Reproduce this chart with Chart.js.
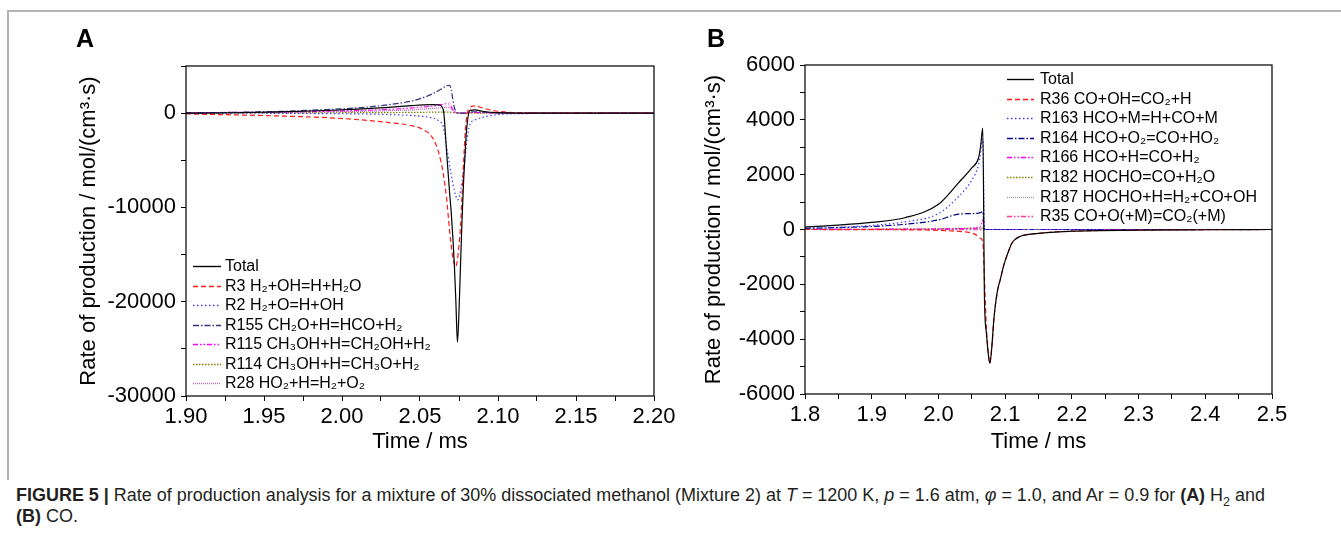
<!DOCTYPE html>
<html>
<head>
<meta charset="utf-8">
<title>Figure 5 - Rate of production analysis</title>
<script src="https://cdn.jsdelivr.net/npm/chart.js@4.4.1/dist/chart.umd.min.js"></script>
<style>
  html, body { margin: 0; padding: 0; background: #fff; }
  #fig { position: relative; width: 1341px; height: 537px; overflow: hidden; background: #fff;
         font-family: 'Liberation Sans', Arial, sans-serif; }
  .rule-top { position: absolute; left: 7px; top: 10px; width: 1334px; height: 2px; background: #b4b4b4; }
  .rule-left { position: absolute; left: 7px; top: 10px; width: 2px; height: 470px; background: #b4b4b4; }
  canvas { position: absolute; top: 0; }
  #chartA { left: 0; }
  #chartB { left: 680px; }
  .panel { position: absolute; font-weight: bold; font-size: 25px; line-height: 25px; color: #000; }
  #caption { position: absolute; left: 16px; top: 485px; color: #231f20; white-space: nowrap;
             font-family: 'Liberation Sans Narrow', 'Liberation Sans', sans-serif; font-size: 17.5px; line-height: 21px;
             transform-origin: 0 0; }
  #caption sub { font-size: 70%; line-height: 0; }
</style>
</head>
<body>
<div id="fig">
  <div class="rule-top"></div>
  <div class="rule-left"></div>
  <canvas id="chartA" width="680" height="470"></canvas>
  <canvas id="chartB" width="661" height="470"></canvas>
  <div class="panel" style="left:76px; top:26px;">A</div>
  <div class="panel" style="left:707px; top:26px;">B</div>
  <div id="caption"><span id="capLine1"><b>FIGURE 5 |</b> Rate of production analysis for a mixture of 30% dissociated methanol (Mixture 2) at <i>T</i> = 1200 K, <i>p</i> = 1.6 atm, <i>φ</i> = 1.0, and Ar = 0.9 for <b>(A)</b> H<sub>2</sub> and</span><br><b>(B)</b> CO.</div>
</div>

<script>
// ---------- Panel A : H2 ----------
const timeA = [1.90, 1.93, 1.96, 1.99, 2.01, 2.03, 2.045, 2.052, 2.058, 2.062, 2.065, 2.067, 2.069, 2.070, 2.071,
               2.072, 2.073, 2.074, 2.075, 2.076, 2.077, 2.078, 2.079, 2.080, 2.082, 2.085, 2.09, 2.10, 2.12, 2.20];
const totalA = [0, 40, 130, 280, 420, 620, 800, 870, 900, 880, 300, -4000, -8500, -10500, -13000,
                -16000, -20000, -24300, -21000, -16000, -11000, -7000, -4000, -1500, 300, 350, 200, 50, 0, 0];
const r3A    = [-80, -180, -300, -480, -680, -1000, -1350, -1750, -2600, -4200, -6500, -9000, -12500, -14000, -15300,
                -16000, -16300, -15500, -14000, -12000, -8500, -5000, -2000, -300, 600, 780, 550, 200, 20, 0];
const r2A    = [0, 0, -20, -50, -80, -150, -250, -350, -500, -800, -1500, -3500, -5500, -6500, -7400,
                -8200, -8800, -9200, -9000, -8200, -7200, -6000, -4500, -3000, -1200, -750, -450, -150, -40, 0];
const r155A  = [30, 80, 180, 380, 560, 900, 1300, 1650, 2050, 2400, 2700, 2900, 2950, 2500, 1500,
                600, 200, 50, 0, 0, 0, 0, 0, 50, 150, 150, 100, 30, 0, 0];
const r115A  = [50, 80, 120, 200, 280, 400, 550, 650, 750, 850, 950, 1000, 950, 700, 400,
                150, 50, 0, 0, 0, 0, 0, 0, 30, 80, 80, 50, 20, 0, 0];
const r114A  = [0, 10, 20, 40, 50, 60, 80, 90, 100, 100, 100, 100, 100, 80, 60,
                40, 20, 0, 0, 0, 0, 0, 0, 0, 0, 0, 0, 0, 0, 0];
const r28A   = [30, 50, 80, 130, 180, 260, 350, 420, 500, 550, 600, 620, 580, 450, 300,
                150, 50, 0, 0, 0, 0, 0, 0, 20, 50, 50, 30, 10, 0, 0];

// ---------- Panel B : CO ----------
const timeB = [1.80, 1.85, 1.90, 1.95, 2.00, 2.03, 2.05, 2.06, 2.063, 2.0665, 2.069, 2.072, 2.075, 2.077,
               2.080, 2.083, 2.088, 2.093, 2.098, 2.105, 2.110, 2.120, 2.150, 2.20, 2.30, 2.40, 2.50];
const totalB = [90, 160, 260, 430, 920, 1700, 2250, 2600, 3000, 3700, -2500, -3800, -4600, -4880,
                -4300, -3300, -2300, -1800, -1300, -800, -500, -280, -140, -60, -25, -10, 0];
const r36B   = [0, -2, -5, -12, -30, -70, -130, -250, -320, -450, -1800, -3600, -4550, -4880,
                -4300, -3300, -2300, -1800, -1300, -800, -500, -280, -140, -60, -25, -10, 0];
const r163B  = [50, 80, 150, 280, 580, 1200, 1800, 2350, 2750, 3300, 30, 0, 0, 0,
                0, 0, 0, 0, 0, 0, 0, 0, 0, 0, 0, 0, 0];
const r164B  = [40, 70, 110, 190, 350, 560, 580, 600, 620, 650, 0, 0, 0, 0,
                0, 0, 0, 0, 0, 0, 0, 0, 0, 0, 0, 0, 0];
const r166B  = [0, 5, 10, 15, 20, 30, 40, 60, 100, 350, 0, 0, 0, 0,
                0, 0, 0, 0, 0, 0, 0, 0, 0, 0, 0, 0, 0];
const r182B  = [0, 5, 10, 15, 25, 40, 50, 55, 55, 50, 0, 0, 0, 0,
                0, 0, 0, 0, 0, 0, 0, 0, 0, 0, 0, 0, 0];
const r187B  = [0, 0, 0, 5, 10, 15, 20, 20, 20, 20, 0, 0, 0, 0,
                0, 0, 0, 0, 0, 0, 0, 0, 0, 0, 0, 0, 0];
const r35B   = [0, 0, 0, 0, 0, -5, -10, -10, -10, -10, 0, 0, 0, 0,
                0, 0, 0, 0, 0, 0, 0, 0, 0, 0, 0, 0, 0];

// line styles
const DASH     = [5, 3];
const DOT      = [1.5, 2.5];
const DASHDOT  = [6, 2, 1.5, 2];
const DASHDOT2 = [5, 2, 1.5, 2, 1.5, 2];
const SHORTDOT = [1.5, 1.5];
const FINEDOT  = [1, 1];

Chart.defaults.font.family = "'Liberation Sans', Arial, sans-serif";
Chart.defaults.color = '#000';

function series(label, times, values, color, dash) {
    return {
        label: label,
        data: times.map((t, i) => ({ x: t, y: values[i] })),
        borderColor: color,
        borderDash: dash,
        borderWidth: 1.2,
        pointRadius: 0,
        fill: false,
        cubicInterpolationMode: 'monotone'
    };
}

// legend drawn inside the plot, reads labels and styles from the datasets
const insideLegend = {
    id: 'insideLegend',
    afterDraw(chart, args, opts) {
        const ctx = chart.ctx;
        ctx.save();
        ctx.font = opts.font;
        ctx.textBaseline = 'middle';
        ctx.fillStyle = '#000';
        chart.data.datasets.forEach((ds, i) => {
            const y = Math.round(opts.y + i * opts.rowH) + 0.5;
            ctx.strokeStyle = ds.borderColor;
            ctx.lineWidth = 1.4;
            ctx.setLineDash(ds.borderDash || []);
            ctx.beginPath();
            ctx.moveTo(opts.x, y);
            ctx.lineTo(opts.x + opts.len, y);
            ctx.stroke();
            ctx.setLineDash([]);
            ctx.fillText(ds.label, opts.x + opts.len + opts.gap, y);
        });
        ctx.restore();
    }
};

// box around the plot area
const frame = {
    id: 'frame',
    afterDraw(chart) {
        const { ctx, chartArea: a } = chart;
        ctx.save();
        ctx.strokeStyle = '#111';
        ctx.lineWidth = 1.3;
        ctx.strokeRect(a.left, a.top, a.right - a.left, a.bottom - a.top);
        ctx.restore();
    }
};

function makeChart(canvasId, datasets, cfg) {
    const axisGrid = { drawOnChartArea: false, drawTicks: true, tickLength: 5, tickColor: '#000', color: '#000' };
    return new Chart(document.getElementById(canvasId), {
        type: 'line',
        data: { datasets: datasets },
        plugins: [insideLegend, frame],
        options: {
            responsive: false,
            animation: false,
            layout: { padding: { top: cfg.padTop, right: cfg.padRight, left: 0, bottom: 0 } },
            plugins: {
                legend: { display: false },
                tooltip: { enabled: false },
                insideLegend: cfg.legend
            },
            scales: {
                x: {
                    type: 'linear',
                    min: cfg.xMin, max: cfg.xMax,
                    border: { display: false },
                    grid: axisGrid,
                    afterFit: (s) => { s.height = cfg.xHeight; },
                    ticks: {
                        stepSize: cfg.xStep, autoSkip: false, maxRotation: 0, padding: 3,
                        font: { size: 22 },
                        callback: cfg.xLabel
                    },
                    title: {
                        display: true, text: 'Time / ms',
                        font: { size: 22 },
                        padding: { top: 0, bottom: 15 }
                    }
                },
                y: {
                    min: cfg.yMin, max: cfg.yMax,
                    border: { display: false },
                    grid: axisGrid,
                    afterFit: (s) => { s.width = cfg.yWidth; },
                    ticks: {
                        stepSize: cfg.yStep, autoSkip: false, padding: 5,
                        font: { size: 22 },
                        callback: cfg.yLabel
                    },
                    title: {
                        display: true, text: 'Rate of production / mol/(cm³·s)',
                        font: { size: 22 },
                        padding: { top: cfg.yTitlePad, bottom: 0 }
                    }
                }
            }
        }
    });
}

const legendFont = "16px 'Liberation Sans', Arial, sans-serif";

makeChart('chartA', [
    series('Total', timeA, totalA, '#000000', []),
    series('R3 H₂+OH=H+H₂O', timeA, r3A, '#ff1a1a', DASH),
    series('R2 H₂+O=H+OH', timeA, r2A, '#3b3bff', DOT),
    series('R155 CH₂O+H=HCO+H₂', timeA, r155A, '#34347f', DASHDOT),
    series('R115 CH₃OH+H=CH₂OH+H₂', timeA, r115A, '#ff00ff', DASHDOT2),
    series('R114 CH₃OH+H=CH₃O+H₂', timeA, r114A, '#808000', SHORTDOT),
    series('R28 HO₂+H=H₂+O₂', timeA, r28A, '#cc55bb', FINEDOT)
], {
    xMin: 1.90, xMax: 2.20, xStep: 0.025,
    yMin: -30000, yMax: 5000, yStep: 5000,
    padTop: 66, padRight: 26, xHeight: 74, yWidth: 186, yTitlePad: 76,
    xLabel: (v) => { const k = Math.round(v * 1000); return k % 50 === 0 ? (k / 1000).toFixed(2) : ''; },
    yLabel: (v) => (Math.round(v) % 10000 === 0 ? String(Math.round(v)) : ''),
    legend: { x: 193, y: 266, len: 28, gap: 4, rowH: 19.5, font: legendFont }
});

makeChart('chartB', [
    series('Total', timeB, totalB, '#000000', []),
    series('R36 CO+OH=CO₂+H', timeB, r36B, '#ff1a1a', DASH),
    series('R163 HCO+M=H+CO+M', timeB, r163B, '#3b3bff', DOT),
    series('R164 HCO+O₂=CO+HO₂', timeB, r164B, '#000088', DASHDOT),
    series('R166 HCO+H=CO+H₂', timeB, r166B, '#ff00ff', DASHDOT2),
    series('R182 HOCHO=CO+H₂O', timeB, r182B, '#808000', SHORTDOT),
    series('R187 HOCHO+H=H₂+CO+OH', timeB, r187B, '#a58fa5', FINEDOT),
    series('R35 CO+O(+M)=CO₂(+M)', timeB, r35B, '#ff3399', DASHDOT2)
], {
    xMin: 1.8, xMax: 2.5, xStep: 0.05,
    yMin: -6000, yMax: 6000, yStep: 1000,
    padTop: 65, padRight: 69, xHeight: 76, yWidth: 125, yTitlePad: 21,
    xLabel: (v) => { const k = Math.round(v * 100); return k % 10 === 0 ? (k / 100).toFixed(1) : ''; },
    yLabel: (v) => (Math.round(v) % 2000 === 0 ? String(Math.round(v)) : ''),
    legend: { x: 327, y: 79, len: 27, gap: 6, rowH: 19.6, font: legendFont }
});

// squeeze the caption horizontally so its first line spans the same width as the original
const caption = document.getElementById('caption');
const line1 = document.getElementById('capLine1');
const w = line1.getBoundingClientRect().width;
if (w > 0) caption.style.transform = 'scaleX(' + (1249 / w).toFixed(4) + ')';
</script>
</body>
</html>
